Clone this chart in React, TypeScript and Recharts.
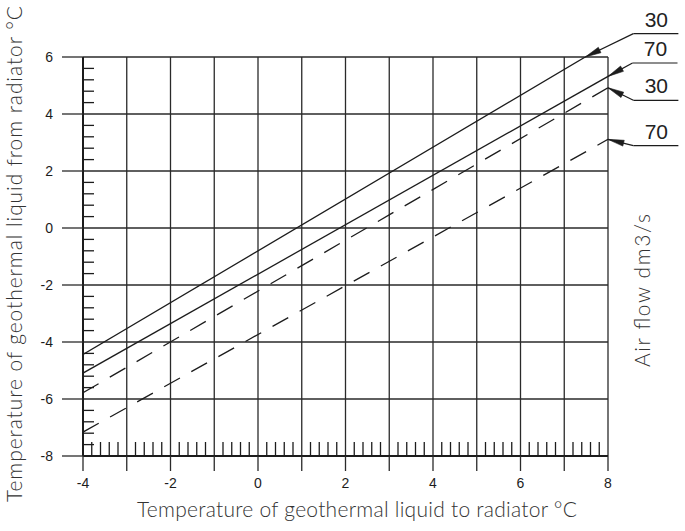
import React from 'react';
import { LineChart, Line, XAxis, YAxis, ReferenceLine } from 'recharts';

// ---- data ----
const xMajorTicks = [-4, -3, -2, -1, 0, 1, 2, 3, 4, 5, 6, 7, 8];
const xTickLabels = ['-4', '-2', '0', '2', '4', '6', '8'];
const yMajorTicks = [-8, -6, -4, -2, 0, 2, 4, 6];
const yTickLabels = ['-8', '-6', '-4', '-2', '0', '2', '4', '6'];

const seriesNames = ['30', '70', '30', '70'];
const solid30 = [{ x: -4, y: -4.44 }, { x: 7.48, y: 6.0 }];
const solid70 = [{ x: -4, y: -5.09 }, { x: 8, y: 5.32 }];
const dashed30 = [{ x: -4, y: -5.78 }, { x: 8, y: 4.92 }];
const dashed70 = [{ x: -4, y: -7.16 }, { x: 8, y: 3.11 }];

// ---- layout / style ----
const W = 685;
const H = 531;
const INK = '#1c1c1c';
const GRID = '#2a2a2a';
const X_MINOR_STEP = 0.2;
const Y_MINOR_STEP = 0.4;
const LEADER_ELBOWS = [
  { x: 8.58, y: 6.82 },
  { x: 8.56, y: 5.79 },
  { x: 8.58, y: 4.48 },
  { x: 8.58, y: 2.89 },
];

const round = (v: number) => Math.round(v * 1000) / 1000;
const buildTicks = (majors: number[], step: number) => {
  const out: number[] = [];
  for (let i = 0; i < majors.length; i++) {
    out.push(majors[i]);
    if (i < majors.length - 1) {
      for (let v = majors[i] + step; v < majors[i + 1] - 1e-6; v += step) out.push(round(v));
    }
  }
  return out;
};
const xAllTicks = buildTicks(xMajorTicks, X_MINOR_STEP);
const yAllTicks = buildTicks(yMajorTicks, Y_MINOR_STEP);

const isInt = (v: number) => Math.abs(v - Math.round(v)) < 1e-6;

const XTick = (props: any) => {
  const { x, y, payload } = props;
  const v = payload.value;
  if (isInt(v)) {
    const lbl = String(Math.round(v));
    return (
      <g>
        <line x1={x} x2={x} y1={y} y2={y + 15} stroke={GRID} strokeWidth={1.3} />
        {xTickLabels.includes(lbl) && (
          <text x={x} y={y + 32} textAnchor="middle" fontSize={14} fontFamily="Liberation Sans, Arial, sans-serif" fill={INK}>
            {lbl}
          </text>
        )}
      </g>
    );
  }
  return <line x1={x} x2={x} y1={y} y2={y - 14} stroke={INK} strokeWidth={1.3} />;
};

const YTick = (props: any) => {
  const { x, y, payload } = props;
  const v = payload.value;
  const lbl = String(Math.round(v));
  if (isInt(v) && yTickLabels.includes(lbl) && Math.round(v) % 2 === 0) {
    return (
      <g>
        <line x1={x - 21} x2={x} y1={y} y2={y} stroke={GRID} strokeWidth={1.3} />
        <text x={x - 30} y={y + 5} textAnchor="end" fontSize={14} fontFamily="Liberation Sans, Arial, sans-serif" fill={INK}>
          {lbl}
        </text>
      </g>
    );
  }
  return <line x1={x} x2={x + 11} y1={y} y2={y} stroke={INK} strokeWidth={1.3} />;
};

const Leader = (props: any) => {
  const { x1, y1, x2, y2, name } = props;
  const dx = x2 - x1;
  const dy = y2 - y1;
  const len = Math.sqrt(dx * dx + dy * dy) || 1;
  const ux = dx / len;
  const uy = dy / len;
  const nx = -uy;
  const ny = ux;
  const L = 16;
  const hw = 3;
  const bx = x1 + ux * L;
  const by = y1 + uy * L;
  const pts = `${x1},${y1} ${bx + nx * hw},${by + ny * hw} ${bx - nx * hw},${by - ny * hw}`;
  return (
    <g>
      <line x1={x1} y1={y1} x2={x2} y2={y2} stroke={INK} strokeWidth={1.2} />
      <polygon points={pts} fill={INK} stroke={INK} strokeWidth={0.6} />
      <line x1={x2} y1={y2} x2={x2 + 45} y2={y2} stroke={INK} strokeWidth={1.2} />
      <text x={x2 + 23} y={y2 - 7} textAnchor="middle" fontSize={21} fontFamily="Liberation Sans, Arial, sans-serif" fill="#222">
        {name}
      </text>
    </g>
  );
};

const series = [
  { name: seriesNames[0], data: solid30, dash: undefined as string | undefined },
  { name: seriesNames[1], data: solid70, dash: undefined as string | undefined },
  { name: seriesNames[2], data: dashed30, dash: '18 13' },
  { name: seriesNames[3], data: dashed70, dash: '18 13' },
];

const TITLE_FONT = 'Lato, "DejaVu Sans", sans-serif';

export default function App() {
  return (
    <div style={{ position: 'absolute', left: 0, top: 0, width: W, height: H, background: '#fff' }}>
      <LineChart width={W} height={H} margin={{ top: 57, right: 77, bottom: 0, left: 0 }}>
        <XAxis
          type="number"
          dataKey="x"
          domain={[-4, 8]}
          ticks={xAllTicks}
          interval={0}
          tickSize={0}
          tickMargin={0}
          tickLine={false}
          axisLine={{ stroke: INK, strokeWidth: 2 }}
          tick={(p: any) => <XTick {...p} />}
          height={75}
          allowDataOverflow
        />
        <YAxis
          type="number"
          domain={[-8, 6]}
          ticks={yAllTicks}
          interval={0}
          tickSize={0}
          tickMargin={0}
          tickLine={false}
          axisLine={{ stroke: INK, strokeWidth: 2 }}
          tick={(p: any) => <YTick {...p} />}
          width={83}
          allowDataOverflow
        />
        {xMajorTicks.filter((v) => v !== -4).map((v) => (
          <ReferenceLine key={'vx' + v} x={v} stroke={GRID} strokeWidth={1.3} />
        ))}
        {yMajorTicks.filter((v) => v !== -8).map((v) => (
          <ReferenceLine key={'hy' + v} y={v} stroke={GRID} strokeWidth={1.3} />
        ))}
        {series.map((s, i) => (
          <Line
            key={'s' + i}
            data={s.data}
            dataKey="y"
            type="linear"
            stroke={INK}
            strokeWidth={1.3}
            strokeDasharray={s.dash}
            dot={false}
            activeDot={false}
            isAnimationActive={false}
          />
        ))}
        {series.map((s, i) => {
          const end = s.data[s.data.length - 1];
          return (
            <ReferenceLine
              key={'ld' + i}
              segment={[{ x: end.x, y: end.y }, { x: LEADER_ELBOWS[i].x, y: LEADER_ELBOWS[i].y }]}
              ifOverflow="visible"
              shape={(p: any) => <Leader {...p} name={s.name} />}
            />
          );
        })}
      </LineChart>
      <svg width={W} height={H} style={{ position: 'absolute', left: 0, top: 0, pointerEvents: 'none' }}>
        <text
          x={137}
          y={517}
          textLength={440}
          lengthAdjust="spacing"
          fontSize={21}
          fontWeight={300}
          fontFamily={TITLE_FONT}
          fill="#333"
        >
          Temperature of geothermal liquid to radiator °C
        </text>
        <text
          x={0}
          y={0}
          transform="translate(22,502) rotate(-90)"
          textLength={496}
          lengthAdjust="spacing"
          fontSize={21}
          fontWeight={300}
          fontFamily={TITLE_FONT}
          fill="#333"
        >
          Temperature of geothermal liquid from radiator °C
        </text>
        <text
          x={0}
          y={0}
          transform="translate(650,367) rotate(-90)"
          textLength={153}
          lengthAdjust="spacing"
          fontSize={21}
          fontWeight={300}
          fontFamily={TITLE_FONT}
          fill="#333"
        >
          Air flow dm3/s
        </text>
      </svg>
    </div>
  );
}
